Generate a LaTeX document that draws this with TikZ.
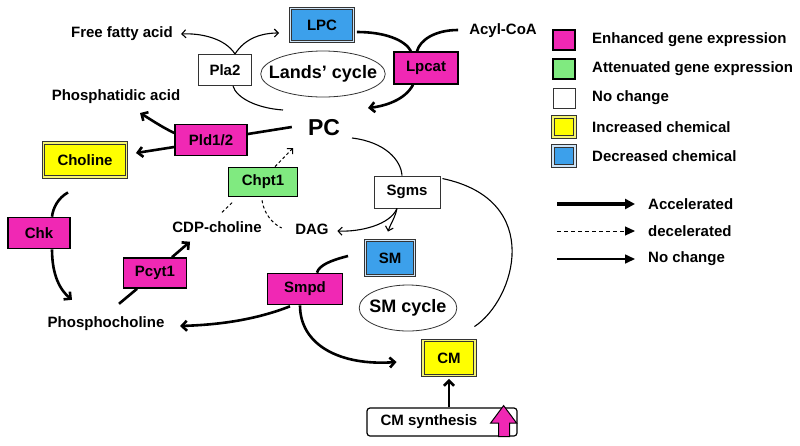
\documentclass[tikz,border=0pt]{standalone}
\usepackage{fontspec}
\setmainfont{Liberation Sans}
\usetikzlibrary{arrows.meta,shapes.geometric}

\definecolor{genepink}{RGB}{240,40,180}
\definecolor{genegreen}{RGB}{128,234,128}
\definecolor{chemyellow}{RGB}{255,255,0}
\definecolor{chemblue}{RGB}{60,160,235}
\definecolor{bluegap}{RGB}{205,228,248}
\definecolor{yellowgap}{RGB}{245,245,110}

\def\boxh{32pt}

\begin{document}
\begin{tikzpicture}[x=1pt,y=-1pt,font=\bfseries\fontsize{15}{18}\selectfont]
    \tikzstyle{every node}=[inner sep=0pt]
    \tikzstyle{enzyme}=[rectangle,draw=black,minimum height=\boxh]
    \tikzstyle{gene up}=[enzyme,fill=genepink,line width=1.6pt]
    \tikzstyle{gene down}=[enzyme,fill=genegreen,line width=1.6pt]
    \tikzstyle{no change}=[enzyme,fill=white,draw=black!80,line width=0.9pt]
    \tikzstyle{chem up}=[rectangle,draw=black!80,fill=chemyellow,double=yellowgap,double distance=1.6pt,line width=0.9pt]
    \tikzstyle{chem down}=[rectangle,draw=black!80,fill=chemblue,double=bluegap,double distance=1.6pt,line width=0.9pt]
    \tikzstyle{cycle}=[ellipse,draw=black!80,line width=0.8pt,font=\bfseries\fontsize{18}{21}\selectfont]
    \tikzstyle{swatch}=[minimum width=22pt,minimum height=20pt]
    \tikzstyle{accel}=[line width=2.6pt,-{Straight Barb[length=5pt,width=10pt]}]
    \tikzstyle{accel line}=[line width=2.6pt]
    \tikzstyle{plain}=[line width=1.1pt,-{Straight Barb[length=4pt,width=8pt]}]
    \tikzstyle{plain line}=[line width=1.1pt]
    \tikzstyle{decel}=[line width=1pt,dash pattern=on 3pt off 2.5pt,-{Straight Barb[length=4pt,width=8pt]}]
    \tikzstyle{decel line}=[line width=1pt,dash pattern=on 3pt off 2.5pt]
    \tikzstyle{key accel}=[line width=3.5pt,-{Triangle[length=10pt,width=10pt]}]
    \tikzstyle{key decel}=[line width=1pt,dash pattern=on 4pt off 3pt,-{Triangle[length=10pt,width=9pt]}]
    \tikzstyle{key plain}=[line width=1.6pt,-{Triangle[length=10pt,width=9pt]}]

    \useasboundingbox (0,0) rectangle (800,445);

    % Lands' cycle
    \node[chem down,minimum width=63pt,minimum height=33pt] (LPC) at (322,25) {LPC};
    \node[no change,minimum width=53pt,minimum height=31pt] (Pla2) at (225,70) {Pla2};
    \node[gene up,minimum width=64pt] (Lpcat) at (426,68) {Lpcat};
    \node[cycle,inner xsep=-10pt,minimum height=46pt] (lands) at (323,74) {Lands’ cycle};
    \node (ffa) at (122,34) {Free fatty acid};
    \node (acyl) at (503,31) {Acyl-CoA};
    \node[font=\bfseries\fontsize{23}{26}\selectfont] (PC) at (324,128) {PC};

    % Choline branch
    \node (PA) at (116,97) {Phosphatidic acid};
    \node[gene up,minimum width=72pt,minimum height=31pt] (Pld) at (211,140) {Pld1/2};
    \node[chem up,minimum width=83pt,minimum height=34pt] (choline) at (85,160) {Choline};
    \node[gene down,minimum width=69pt,minimum height=29pt] (Chpt1) at (263,182) {Chpt1};
    \node[gene up,minimum width=62pt,minimum height=31pt] (Chk) at (39,233) {Chk};
    \node[gene up,minimum width=63pt,minimum height=30pt] (Pcyt1) at (155,273) {Pcyt1};
    \node (CDP) at (217,227) {CDP-choline};
    \node (DAG) at (312,229) {DAG};
    \node (phc) at (106,324) {Phosphocholine};

    % SM cycle
    \node[no change,minimum width=66pt] (Sgms) at (407,192) {Sgms};
    \node[chem down,minimum width=49pt,minimum height=35pt] (SM) at (390,258) {SM};
    \node[gene up,minimum width=75pt,minimum height=31pt] (Smpd) at (305,289) {Smpd};
    \node[cycle,inner xsep=-4pt,minimum height=46pt] (smcycle) at (408,308) {SM cycle};
    \node[chem up,minimum width=52pt,minimum height=35pt] (CM) at (449,358) {CM};
    \node[rectangle,rounded corners=3pt,draw=black,line width=1.2pt,minimum width=150pt,minimum height=28pt] (cmsyn) at (442,422) {CM synthesis\hspace*{26pt}};
    \draw[shift={(cmsyn.south east)},fill=genepink,draw=black,line width=1pt,line join=miter]
        (-14,-31) -- (-1,-13.5) -- (-8,-13.5) -- (-8,0) -- (-19,0) -- (-19,-13.5) -- (-27,-13.5) -- cycle;

    % Lands' cycle connectors
    \draw[plain] ([shift={(10,0)}]Pla2.north) .. controls (225,38) and (200,33) .. ([shift={(8,0)}]ffa.east);
    \draw[plain] ([shift={(10,0)}]Pla2.north) .. controls (245,38) and (262,33) .. ([shift={(-11,8)}]LPC.west);
    \draw[plain line] ([shift={(-41,-18)}]PC.center) .. controls (255,108) and (236,97) .. ([shift={(8,0)}]Pla2.south);
    \draw[accel line] ([shift={(3,7)}]LPC.east) .. controls (385,32) and (405,40) .. ([shift={(-15,0)}]Lpcat.north);
    \draw[accel line] ([shift={(-11,-1)}]acyl.west) .. controls (435,30) and (420,40) .. ([shift={(-9,0)}]Lpcat.north);
    \draw[accel] ([shift={(-13,0)}]Lpcat.south) .. controls (405,100) and (385,106) .. ([shift={(44,-20)}]PC.center);

    % Choline branch connectors
    \draw[accel line] ([shift={(-16,-1)}]PC.west) -- ([shift={(0,-6)}]Pld.east);
    \draw[accel] ([shift={(0,-7)}]Pld.west) .. controls (160,126) and (150,119) .. ([shift={(24,16)}]PA.center);
    \draw[accel] ([shift={(0,7)}]Pld.west) -- ([shift={(9,-7)}]choline.east);
    \draw[decel] ([shift={(12,0)}]Chpt1.north) -- ([shift={(-31,20)}]PC.center);
    \draw[accel line] ([shift={(-17,15)}]choline.south) .. controls (58,198) and (53,208) .. ([shift={(13,0)}]Chk.north);
    \draw[accel] ([shift={(13,0)}]Chk.south) .. controls (52,275) and (60,290) .. ([shift={(-34,-17)}]phc.north);
    \draw[accel line] ([shift={(13,-13)}]phc.north) -- ([shift={(-18,0)}]Pcyt1.south);
    \draw[accel] ([shift={(17,0)}]Pcyt1.north) -- ([shift={(-27,9)}]CDP.south);
    \draw[decel line] ([shift={(5,-9)}]CDP.north) -- ([shift={(-30,4.5)}]Chpt1.south);
    \draw[decel line] ([shift={(-1,3)}]Chpt1.south) .. controls (264,214) and (273,224) .. ([shift={(-13.5,-1)}]DAG.west);

    % SM cycle connectors
    \draw[plain line] ([shift={(28,10)}]PC.center) .. controls (385,142) and (401,160) .. ([shift={(-5,0)}]Sgms.north);
    \draw[plain] ([shift={(-10,0)}]Sgms.south) .. controls (390,225) and (360,232) .. ([shift={(8.5,2)}]DAG.east);
    \draw[plain] ([shift={(-10,0)}]Sgms.south) .. controls (395,218) and (390,225) .. ([shift={(-2,-8.5)}]SM.north);
    \draw[accel line] ([shift={(-17,-2)}]SM.west) .. controls (332,260) and (319,265) .. ([shift={(12,0)}]Smpd.north);
    \draw[accel] ([shift={(-15,1)}]Smpd.south) .. controls (250,322) and (210,325) .. ([shift={(15.5,2)}]phc.east);
    \draw[accel] ([shift={(-5,0)}]Smpd.south) .. controls (300,345) and (340,366) .. ([shift={(-26,4)}]CM.west);
    \draw[plain line] ([shift={(-1,-13.5)}]CM.north east) .. controls (515,300) and (545,200) .. ([shift={(2,3)}]Sgms.north east);
    \draw[accel] ([shift={(7,0)}]cmsyn.north) -- ([shift={(0,3)}]CM.south);

    % Legend
    \foreach \sty/\txt [count=\i] in {gene up/Enhanced gene expression, gene down/Attenuated gene expression, no change/No change, chem up/Increased chemical, chem down/Decreased chemical}
    {
        \node[\sty,swatch] (key-\i) at (564,11+29*\i) {};
        \node[anchor=west] (keytxt-\i) at (592,11+29*\i) {\txt};
    }
    \foreach \sty/\txt/\y [count=\i] in {key accel/Accelerated/204, key decel/decelerated/231, key plain/No change/259}
    {
        \coordinate (line-a-\i) at (557,\y);
        \coordinate (line-b-\i) at (635,\y);
        \draw[\sty] (line-a-\i) -- (line-b-\i);
        \node[anchor=west] (linetxt-\i) at (648,\y) {\txt};
    }
\end{tikzpicture}
\end{document}
